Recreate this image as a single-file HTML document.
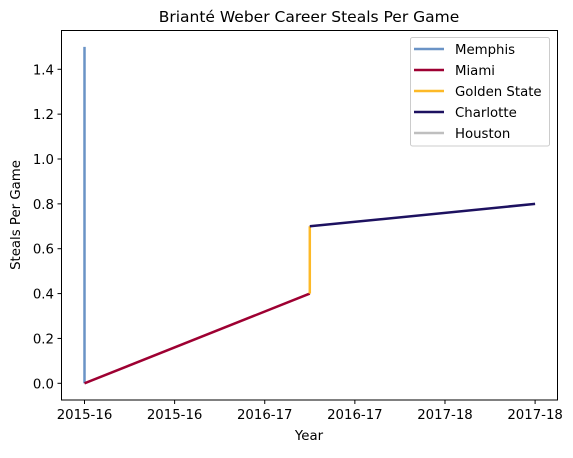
<!DOCTYPE html>
<html><head><meta charset="utf-8"><style>
body{margin:0;background:#fff}
svg text{font-family:"DejaVu Sans","Liberation Sans",sans-serif;fill:#000}
</style></head><body>
<svg id="chart" width="573" height="453">
<text x="309" y="22" font-size="15.5" text-anchor="middle">Brianté Weber Career Steals Per Game</text>
<g id="marks"></g>
<g id="axes"></g>
<rect x="61.5" y="30.5" width="496" height="369.5" fill="none" stroke="#000" stroke-width="1"/>
<text x="309" y="440" font-size="13.3" text-anchor="middle">Year</text>
<text transform="translate(20,215) rotate(-90)" font-size="13.3" text-anchor="middle">Steals Per Game</text>
<g>
<rect x="410.5" y="37.5" width="139" height="108.5" rx="2" fill="#fff" fill-opacity="0.8" stroke="#ccc"/>
<g id="legend-items"></g>
</g>
</svg>
<script>
const seriesNames=["Memphis","Miami","Golden State","Charlotte","Houston"];
const seriesColors=["#6a93c6","#9e0032","#fdb927","#1d1160","#bfbfbf"];
const seriesX=[[0,0],[0,1],[1,1],[1,2],[]];
const seriesY=[[1.5,0],[0,0.4],[0.4,0.7],[0.7,0.8],[]];
const xTicks=[0,0.4,0.8,1.2,1.6,2.0];
const xTickLabels=["2015-16","2015-16","2016-17","2016-17","2017-18","2017-18"];
const yTicks=[0,0.2,0.4,0.6,0.8,1.0,1.2,1.4];
const ns="http://www.w3.org/2000/svg";
function xs(v){return 84.5+v*225.3;}
function ys(v){return 383.3-v*224.3;}
const marks=document.getElementById('marks'),axes=document.getElementById('axes');
seriesX.forEach((xa,i)=>{if(!xa.length)return;
 const p=document.createElementNS(ns,'polyline');
 p.setAttribute('points',xa.map((x,j)=>xs(x)+','+ys(seriesY[i][j])).join(' '));
 p.setAttribute('fill','none');p.setAttribute('stroke',seriesColors[i]);p.setAttribute('stroke-width','2.5');
 
 
 marks.appendChild(p);});
xTicks.forEach((t,i)=>{
 const l=document.createElementNS(ns,'line');l.setAttribute('x1',xs(t));l.setAttribute('x2',xs(t));l.setAttribute('y1',400);l.setAttribute('y2',404);l.setAttribute('stroke','#000');
 
 
 axes.appendChild(l);
 const tx=document.createElementNS(ns,'text');tx.setAttribute('x',xs(t));tx.setAttribute('y',419);tx.setAttribute('font-size','13.3');tx.setAttribute('text-anchor','middle');tx.textContent=xTickLabels[i];
 
 
 axes.appendChild(tx);});
yTicks.forEach(t=>{
 const l=document.createElementNS(ns,'line');l.setAttribute('x1',57.5);l.setAttribute('x2',61.5);l.setAttribute('y1',ys(t));l.setAttribute('y2',ys(t));l.setAttribute('stroke','#000');
 
 
 axes.appendChild(l);
 const tx=document.createElementNS(ns,'text');tx.setAttribute('x',54);tx.setAttribute('y',ys(t)+5);tx.setAttribute('font-size','13.3');tx.setAttribute('text-anchor','end');tx.textContent=t.toFixed(1);
 
 
 axes.appendChild(tx);});
const lg=document.getElementById('legend-items');
seriesNames.forEach((n,i)=>{const y=49+i*21;
 const l=document.createElementNS(ns,'line');l.setAttribute('x1',414);l.setAttribute('x2',444);l.setAttribute('y1',y);l.setAttribute('y2',y);l.setAttribute('stroke',seriesColors[i]);l.setAttribute('stroke-width','2.5');
 
 
 lg.appendChild(l);
 const tx=document.createElementNS(ns,'text');tx.setAttribute('x',455);tx.setAttribute('y',y+5);tx.setAttribute('font-size','13.3');tx.textContent=n;
 
 
 lg.appendChild(tx);});
</script>
</body></html>
